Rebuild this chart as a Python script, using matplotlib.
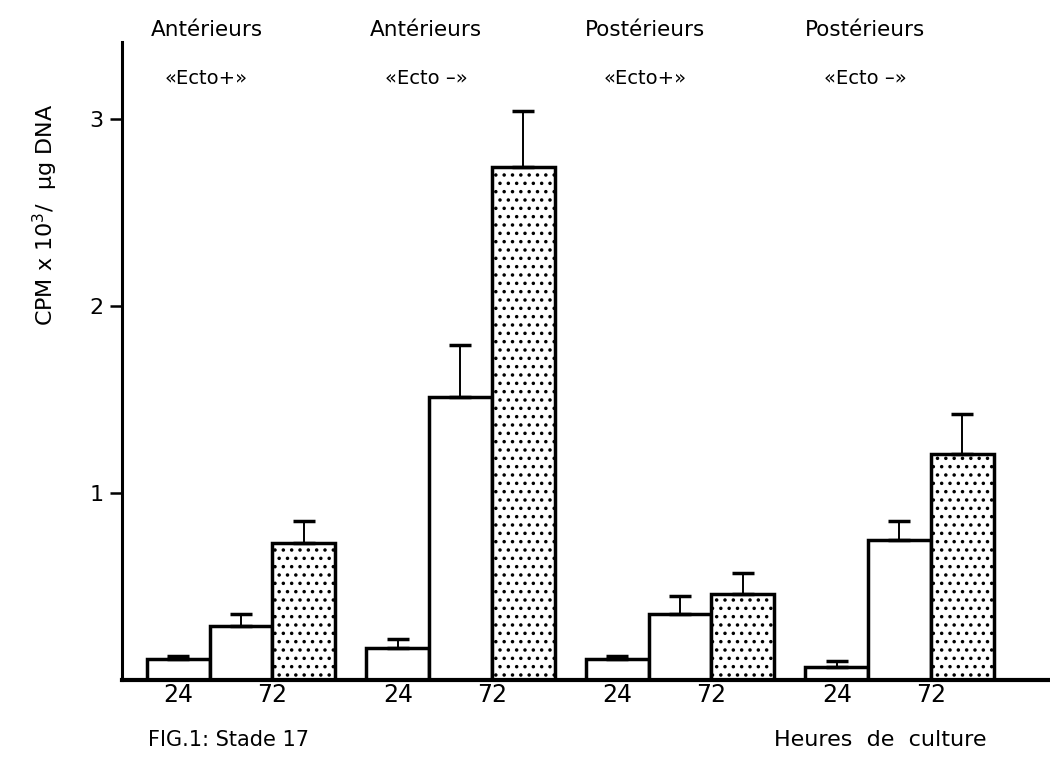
import numpy as np
import matplotlib.pyplot as plt
from matplotlib.transforms import blended_transform_factory

# groups (top labels)
group_top = ["Antérieurs", "Antérieurs", "Postérieurs", "Postérieurs"]
group_sub = ["«Ecto+»", "«Ecto –»", "«Ecto+»", "«Ecto –»"]

# three bars per group: 24 h (white), 72 h (white), 72 h (dotted)
vals_24 = [0.11, 0.17, 0.11, 0.07]
err_24 = [0.02, 0.05, 0.02, 0.03]
vals_72a = [0.29, 1.51, 0.35, 0.75]
err_72a = [0.06, 0.28, 0.10, 0.10]
vals_72b = [0.73, 2.74, 0.46, 1.21]
err_72b = [0.12, 0.30, 0.11, 0.21]

xtick_labels = ["24", "72"]

plt.rcParams['hatch.linewidth'] = 1.3
fig = plt.figure(figsize=(10.5, 7.64), dpi=100)
ax = fig.add_axes([0.116, 0.110, 0.884, 0.835])

gstep = 3.5
g = np.arange(len(vals_24)) * gstep
series = [(vals_24, err_24, None), (vals_72a, err_72a, None), (vals_72b, err_72b, "..")]
for i, (v, e, h) in enumerate(series):
    ax.bar(g + i, v, width=1.0, color="white", edgecolor="black", linewidth=2.5,
           hatch=h, zorder=2)
    ax.errorbar(g + i, v, yerr=[np.zeros(len(e)), e], fmt="none", ecolor="black",
                elinewidth=1.4, capsize=8, capthick=2.5, zorder=3)

ax.set_xlim(-0.9, 13.9)
ax.set_ylim(0, 3.41)
ax.set_yticks([1, 2, 3])
ax.tick_params(axis="y", length=9, width=1.8, labelsize=16, pad=4)
xt = np.concatenate([[p, p + 1.5] for p in g])
ax.set_xticks(xt)
ax.set_xticklabels(xtick_labels * len(g), fontsize=17)
ax.tick_params(axis="x", length=0, pad=2)
for s in ["top", "right"]:
    ax.spines[s].set_visible(False)
ax.spines["left"].set_linewidth(2.2)
ax.spines["bottom"].set_linewidth(3)

tr = blended_transform_factory(ax.transData, fig.transFigure)
for p, t, s in zip(g, group_top, group_sub):
    ax.text(p + 0.45, 1 - 30 / 764, t, transform=tr, ha="center", va="center", fontsize=15.5)
    ax.text(p + 0.45, 1 - 78 / 764, s, transform=tr, ha="center", va="center", fontsize=14)

fig.text(45 / 1050, 1 - 215 / 764, "CPM x 10$^3$/  µg DNA", rotation=90,
         ha="center", va="center", fontsize=16)
fig.text(148 / 1050, 1 - 740 / 764, "FIG.1: Stade 17", ha="left", va="center", fontsize=15)
fig.text(880 / 1050, 1 - 740 / 764, "Heures  de  culture", ha="center", va="center", fontsize=16)

fig.savefig("out.png", dpi=100)
